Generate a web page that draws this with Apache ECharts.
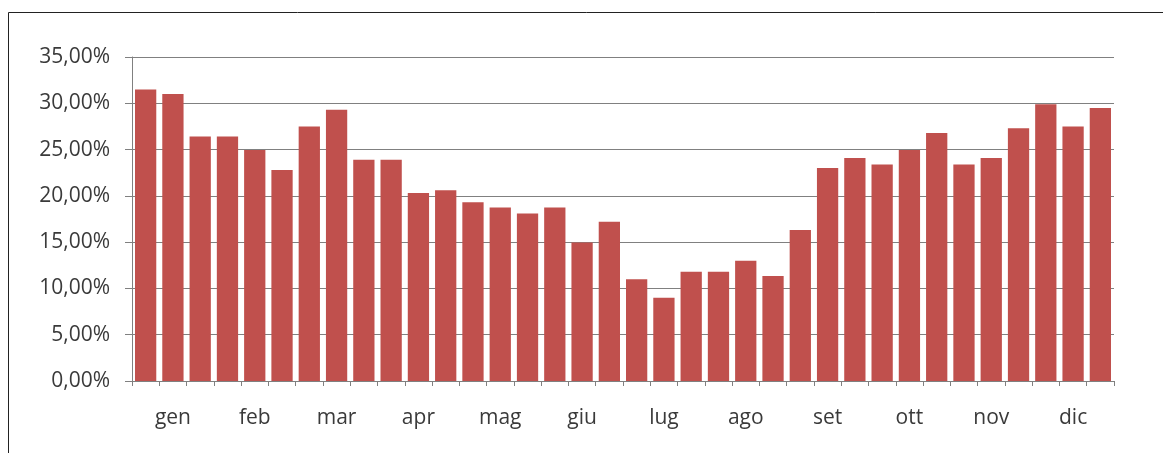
<!DOCTYPE html>
<html>
<head>
<meta charset="utf-8">
<script src="https://cdn.jsdelivr.net/npm/echarts@6/dist/echarts.min.js"></script>
<style>
  html, body { margin: 0; padding: 0; background: #fff; }
  #chart { width: 1163px; height: 453px; }
</style>
</head>
<body>
<div id="chart"></div>
<script>
// three bars per month, label on the middle one
const months = ["gen", "feb", "mar", "apr", "mag", "giu", "lug", "ago", "set", "ott", "nov", "dic"];
const values = [
  31.5, 31.0, 26.4,
  26.4, 24.95, 22.8,
  27.5, 29.3, 23.9,
  23.9, 20.3, 20.6,
  19.3, 18.75, 18.1,
  18.75, 14.95, 17.2,
  11.0, 9.0, 11.8,
  11.8, 13.0, 11.35,
  16.3, 23.0, 24.1,
  23.4, 24.95, 26.8,
  23.4, 24.1, 27.3,
  29.9, 27.5, 29.5
];
const yTicks = { min: 0, max: 35, step: 5 };

const categories = values.map((_, i) => (i % 3 === 1 ? months[Math.floor(i / 3)] : ""));

const chart = echarts.init(document.getElementById("chart"));
chart.setOption({
  animation: false,
  graphic: [
    {
      type: "rect",
      shape: { x: 8.5, y: 12.5, width: 1200, height: 500 },
      style: { fill: "none", stroke: "#222", lineWidth: 1 },
      silent: true,
    },
  ],
  grid: { left: 132, right: 49, top: 57, bottom: 72 },
  xAxis: {
    type: "category",
    data: categories,
    axisLine: { lineStyle: { color: "#808080", width: 1 } },
    axisTick: { show: true, length: 5, lineStyle: { color: "#808080" } },
    axisLabel: {
      interval: 0,
      margin: 27,
      fontFamily: "Open Sans",
      fontSize: 21,
      color: "#3a3a3a",
    },
  },
  yAxis: {
    type: "value",
    min: yTicks.min,
    max: yTicks.max,
    interval: yTicks.step,
    axisLine: { show: true, lineStyle: { color: "#808080", width: 1 } },
    axisTick: { show: true, length: 7, lineStyle: { color: "#808080" } },
    splitLine: { lineStyle: { color: "#808080", width: 1 } },
    axisLabel: {
      margin: 22,
      fontFamily: "Open Sans",
      fontSize: 21,
      color: "#3a3a3a",
      formatter: (v) => v.toFixed(2).replace(".", ",") + "%",
    },
  },
  series: [
    {
      type: "bar",
      data: values,
      barCategoryGap: "22%",
      itemStyle: { color: "#c0504d" },
    },
  ],
});
</script>
</body>
</html>
